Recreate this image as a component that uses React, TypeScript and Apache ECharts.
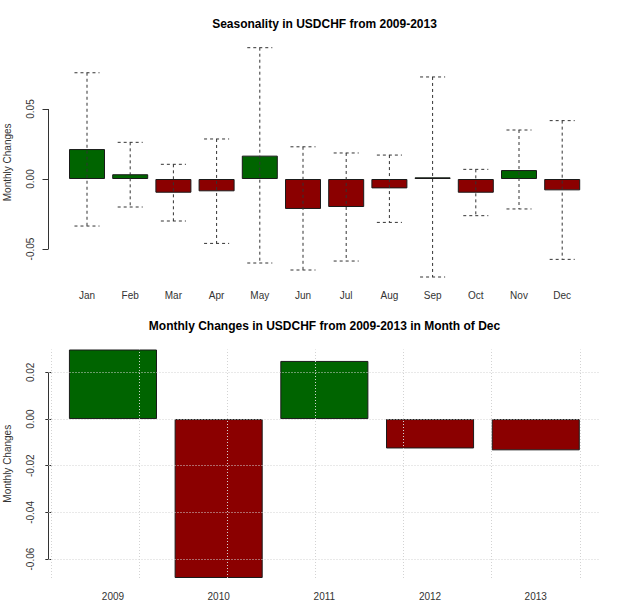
import React, { useEffect, useRef } from "react";
import * as echarts from "echarts";

// ---- Top chart: seasonality (mean monthly change with high/low range) ----
const months = ["Jan", "Feb", "Mar", "Apr", "May", "Jun", "Jul", "Aug", "Sep", "Oct", "Nov", "Dec"];
const meanChanges = [0.0214, 0.0034, -0.0098, -0.0088, 0.0167, -0.0214, -0.02, -0.0067, 0.0012, -0.0098, 0.0064, -0.0081];
const highChanges = [0.0759, 0.0262, 0.0105, 0.0286, 0.0938, 0.023, 0.0186, 0.0171, 0.0729, 0.0069, 0.035, 0.0417];
const lowChanges = [-0.0336, -0.02, -0.03, -0.046, -0.06, -0.065, -0.0586, -0.031, -0.07, -0.0262, -0.0214, -0.0574];
const topTicks = [-0.05, 0, 0.05];

// ---- Bottom chart: December changes per year ----
const years = ["2009", "2010", "2011", "2012", "2013"];
const decChanges = [0.0298, -0.0681, 0.0249, -0.0126, -0.0134];
const bottomTicks = [-0.06, -0.04, -0.02, 0, 0.02];
const bottomGridX = [0, 1, 2, 3, 4, 5, 6];

const GREEN = "#006400";
const RED = "#8B0000";
const FONT = "'Liberation Sans', Arial, sans-serif";
const TEXT = "#333";

// R barplot layout: bar width 1, space 0.2
const barCenter = (i: number) => 0.2 + 1.2 * i + 0.5;

export default function App() {
  const ref = useRef<HTMLDivElement>(null);

  useEffect(() => {
    if (!ref.current) return;
    const chart = echarts.init(ref.current, null, { renderer: "svg" });

    const whiskerItem = (params: any, api: any) => {
      const x = api.value(0);
      const lo = api.value(1);
      const hi = api.value(2);
      const pHi = api.coord([x, hi]);
      const pLo = api.coord([x, lo]);
      const half = api.size([1, 0])[0] * 0.29;
      const style = { stroke: "#333", lineWidth: 1, lineDash: [3, 3], fill: null };
      return {
        type: "group",
        children: [
          { type: "line", shape: { x1: pHi[0], y1: pHi[1], x2: pLo[0], y2: pLo[1] }, style },
          { type: "line", shape: { x1: pHi[0] - half, y1: pHi[1], x2: pHi[0] + half, y2: pHi[1] }, style },
          { type: "line", shape: { x1: pLo[0] - half, y1: pLo[1], x2: pLo[0] + half, y2: pLo[1] }, style },
        ],
      };
    };

    const labelStyle = { fontSize: 10, color: TEXT, fontFamily: FONT };
    const gridLineStyle = { color: "#d3d3d3", width: 1, type: [1, 2] as any };

    const option: any = {
      animation: false,
      textStyle: { fontFamily: FONT },
      title: [
        {
          text: "Seasonality in USDCHF from 2009-2013",
          left: 324.5,
          top: 24,
          padding: 0,
          textAlign: "center",
          textVerticalAlign: "middle",
          textStyle: { fontSize: 12, fontWeight: "bold", color: "#000", fontFamily: FONT },
        },
        {
          text: "Monthly Changes in USDCHF from 2009-2013 in Month of Dec",
          left: 324.5,
          top: 325.7,
          padding: 0,
          textAlign: "center",
          textVerticalAlign: "middle",
          textStyle: { fontSize: 12, fontWeight: "bold", color: "#000", fontFamily: FONT },
        },
      ],
      grid: [
        { left: 65.4, top: 47.7, width: 518.4, height: 229.3, containLabel: false, outerBoundsMode: "none" },
        { left: 48.5, top: 349.5, width: 551.7, height: 228.5, containLabel: false, outerBoundsMode: "none" },
      ],
      xAxis: [
        {
          type: "category",
          gridIndex: 0,
          data: months,
          axisLine: { show: false },
          axisTick: { show: false },
          splitLine: { show: false },
          axisLabel: { ...labelStyle, margin: 13, interval: 0 },
        },
        {
          type: "value",
          gridIndex: 1,
          min: -0.032,
          max: 6.232,
          axisLine: { show: false },
          axisTick: { show: false },
          splitLine: { show: false },
          axisLabel: {
            ...labelStyle,
            margin: 13,
            customValues: years.map((_, i) => barCenter(i)),
            formatter: (v: number) => years[Math.round((v - 0.7) / 1.2)],
          },
        },
      ],
      yAxis: [
        {
          type: "value",
          gridIndex: 0,
          min: Math.min(...lowChanges),
          max: Math.max(...highChanges),
          offset: 16.9,
          axisLine: { show: false },
          axisTick: { show: true, customValues: topTicks, length: 6, lineStyle: { color: "#333" } },
          axisLabel: { ...labelStyle, customValues: topTicks, formatter: (v: number) => v.toFixed(2), rotate: 90, margin: 13 },
          splitLine: { show: false },
          name: "Monthly Changes",
          nameLocation: "middle",
          nameRotate: 90,
          nameGap: 36,
          nameTextStyle: { ...labelStyle },
        },
        {
          type: "value",
          gridIndex: 1,
          min: Math.min(...decChanges),
          max: Math.max(...decChanges),
          axisLine: { show: false },
          axisTick: { show: true, customValues: bottomTicks, length: 6, lineStyle: { color: "#333" } },
          axisLabel: { ...labelStyle, customValues: bottomTicks, formatter: (v: number) => v.toFixed(2), rotate: 90, margin: 13 },
          splitLine: { show: false },
          name: "Monthly Changes",
          nameLocation: "middle",
          nameRotate: 90,
          nameGap: 36,
          nameTextStyle: { ...labelStyle },
        },
      ],
      series: [
        {
          type: "bar",
          xAxisIndex: 0,
          yAxisIndex: 0,
          barCategoryGap: "16.667%",
          data: meanChanges.map((v) => ({ value: v, itemStyle: { color: v >= 0 ? GREEN : RED } })),
          itemStyle: { borderColor: "#1a1a1a", borderWidth: 1 },
          z: 2,
        },
        {
          type: "custom",
          xAxisIndex: 0,
          yAxisIndex: 0,
          data: months.map((_, i) => [i, lowChanges[i], highChanges[i]]),
          encode: { x: 0, y: [1, 2] },
          renderItem: whiskerItem,
          z: 3,
          silent: true,
        },
        {
          type: "bar",
          xAxisIndex: 1,
          yAxisIndex: 1,
          barWidth: "83.333%",
          data: decChanges.map((v, i) => ({ value: [barCenter(i), v], itemStyle: { color: v >= 0 ? GREEN : RED } })),
          itemStyle: { borderColor: "#1a1a1a", borderWidth: 1 },
          z: 2,
          markLine: {
            silent: true,
            symbol: ["none", "none"],
            label: { show: false },
            lineStyle: gridLineStyle,
            emphasis: { disabled: true },
            animation: false,
            data: [
              ...bottomGridX.map((v) => ({ xAxis: v })),
              ...bottomTicks.map((v) => ({ yAxis: v })),
            ],
          },
        },
      ],
    };

    chart.setOption(option);

    // R-style axis lines spanning only from first to last tick
    const y0a = chart.convertToPixel({ yAxisIndex: 0 } as any, topTicks[0]) as number;
    const y0b = chart.convertToPixel({ yAxisIndex: 0 } as any, topTicks[topTicks.length - 1]) as number;
    const y1a = chart.convertToPixel({ yAxisIndex: 1 } as any, bottomTicks[0]) as number;
    const y1b = chart.convertToPixel({ yAxisIndex: 1 } as any, bottomTicks[bottomTicks.length - 1]) as number;
    const axisStyle = { stroke: "#333", lineWidth: 1 };
    chart.setOption({
      graphic: [
        { type: "line", silent: true, shape: { x1: 48.5, y1: y0a, x2: 48.5, y2: y0b }, style: axisStyle },
        { type: "line", silent: true, shape: { x1: 48.5, y1: y1a, x2: 48.5, y2: y1b }, style: axisStyle },
      ],
    });

    return () => chart.dispose();
  }, []);

  return (
    <div
      ref={ref}
      style={{ position: "fixed", left: 0, top: 0, width: 624, height: 602, background: "#fff" }}
    />
  );
}
